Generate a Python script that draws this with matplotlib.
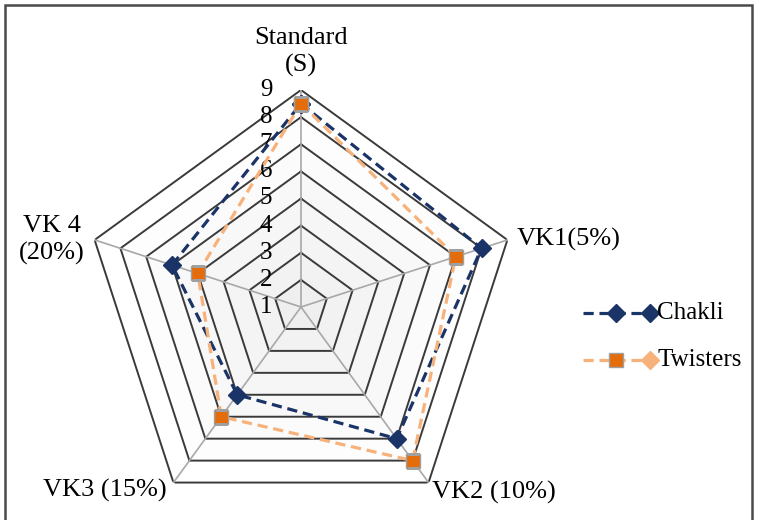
import numpy as np
import matplotlib
matplotlib.use("Agg")
import matplotlib.pyplot as plt
from matplotlib.lines import Line2D
from matplotlib.patches import Rectangle
from matplotlib.transforms import ScaledTranslation

plt.rcParams["font.family"] = ["Liberation Serif", "DejaVu Serif"]

# ===== data =====
categories = ["Standard\n(S)", "VK1(5%)", "VK2 (10%)", "VK3 (15%)", "VK 4\n(20%)"]
chakli = [8.5, 8.0, 7.0, 5.0, 6.0]
twisters = [8.5, 7.0, 8.0, 6.0, 5.0]
levels = [1, 2, 3, 4, 5, 6, 7, 8, 9]

NAVY = "#1b3468"
ORANGE = "#e46c0a"
PEACH = "#f7b27c"

W, H = 757, 520
fig = plt.figure(figsize=(W / 100, H / 100), dpi=100)
cx, cy, R = 301, 307, 217
ax = fig.add_axes([(cx - R) / W, (H - cy - R) / H, 2 * R / W, 2 * R / H], projection="polar")
ax.set_theta_offset(np.pi / 2)
ax.set_theta_direction(-1)
ax.set_ylim(levels[0], levels[-1])
ax.grid(False)
ax.spines["polar"].set_visible(False)
ax.set_xticks([]); ax.set_yticks([])
ax.patch.set_alpha(0)

n = len(categories)
theta = np.arange(n) * 2 * np.pi / n
tc = np.append(theta, theta[0])

# soft shading inside the web (light grey toward centre)
shades = np.linspace(1.0, 0.93, len(levels))
for lv, g in zip(levels[::-1], shades):
    ax.fill(tc, [lv] * (n + 1), color=(g, g, g), lw=0, zorder=0)

# pentagon rings + spokes
for lv in levels[1:]:
    ax.plot(tc, [lv] * (n + 1), color="#3a3a3a", lw=1.4, zorder=1)
for t in theta:
    ax.plot([t, t], [levels[0], levels[-1]], color="#a8a8a8", lw=1.2, zorder=1)

# radial tick labels, left of the top spoke
off = ScaledTranslation(-35 / 100, 0, fig.dpi_scale_trans)
for lv in levels:
    ax.text(0, lv, str(lv), transform=ax.transData + off, ha="center", va="center",
            fontsize=18, zorder=3)

# series
ax.plot(tc, chakli + chakli[:1], color=NAVY, lw=2.3, dashes=(3.2, 1.8),
        marker="D", ms=9, mfc=NAVY, mec=NAVY, zorder=4)
ax.plot(tc, twisters + twisters[:1], color=PEACH, lw=2.3, dashes=(3.2, 1.8),
        marker="s", ms=10, mfc=ORANGE, mec="#a0a0a0", mew=1, zorder=5)

# category labels
lab_off = [(0, 38, "center"), (9, 0, "left"), (3, -10, "left"), (-7, -8, "right"), (-10, 0, "right")]
for t, txt, (dx, dy, ha) in zip(theta, categories, lab_off):
    ax.annotate(txt, xy=(t, levels[-1]), xytext=(dx, dy), textcoords="offset pixels",
                ha=ha, va="center", fontsize=19, multialignment="center",
                linespacing=1.25, annotation_clip=False)

# legend drawn by hand (Excel style markers)
def fx(px):
    return px / W

def fy(py):
    return 1 - py / H

for py, col, first, last, name in [
    (313, NAVY, ("D", NAVY, NAVY, 9), ("D", NAVY, NAVY, 9), "Chakli"),
    (360, PEACH, ("s", ORANGE, "#a0a0a0", 10), ("D", PEACH, PEACH, 9), "Twisters"),
]:
    fig.add_artist(Line2D([fx(583), fx(652)], [fy(py), fy(py)], color=col, lw=2.3,
                          dashes=(3.2, 1.8), transform=fig.transFigure))
    for mx, (m, fc, ec, ms) in [(616, first), (650, last)]:
        fig.add_artist(Line2D([fx(mx)], [fy(py)], marker=m, ms=ms, mfc=fc, mec=ec,
                              ls="none", transform=fig.transFigure))
    fig.text(fx(657), fy(py), name, ha="left", va="center", fontsize=18)

# chart frame
fig.add_artist(Rectangle((fx(5), -0.05), fx(752) - fx(5), fy(5) + 0.05, fill=False,
                         ec="#4a4a4a", lw=1.8, transform=fig.transFigure))

fig.savefig("out.png", dpi=100, facecolor="white")
